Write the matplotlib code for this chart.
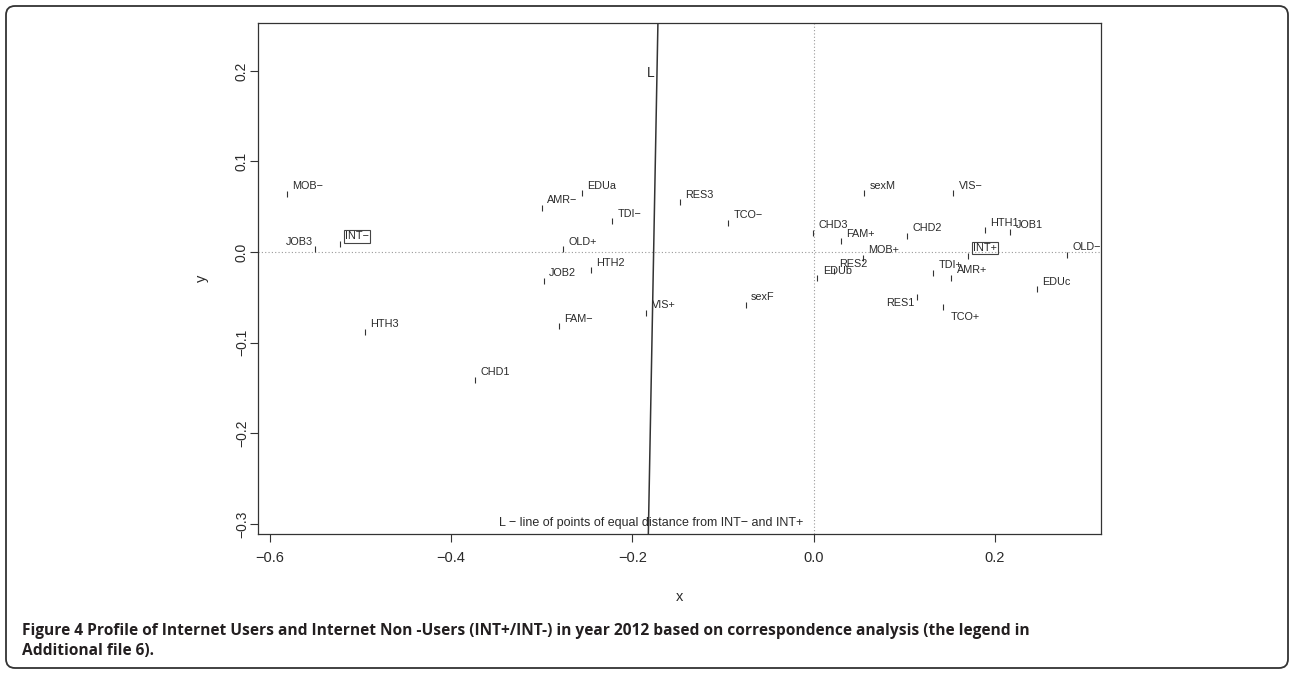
import numpy as np
import matplotlib
matplotlib.use("Agg")
import matplotlib.pyplot as plt
import matplotlib.patches as mpatches
from matplotlib import font_manager

# Correspondence analysis coordinates
labels = ["MOB−", "EDUa", "AMR−", "TDI−", "JOB3", "INT−", "OLD+", "HTH2", "JOB2",
          "VIS+", "FAM−", "HTH3", "CHD1", "RES3", "TCO−", "sexF", "CHD3", "FAM+",
          "sexM", "VIS−", "CHD2", "HTH1", "JOB1", "MOB+", "INT+", "OLD−", "RES2",
          "EDUb", "TDI+", "AMR+", "EDUc", "TCO+", "RES1"]
x = [-0.581, -0.256, -0.300, -0.222, -0.550, -0.523, -0.277, -0.246, -0.298,
     -0.185, -0.281, -0.495, -0.374, -0.148, -0.094, -0.075, -0.001, 0.030,
     0.056, 0.154, 0.103, 0.189, 0.217, 0.054, 0.170, 0.279, 0.022,
     0.004, 0.132, 0.152, 0.246, 0.143, 0.114]
y = [0.064, 0.065, 0.049, 0.034, 0.003, 0.009, 0.003, -0.020, -0.032,
     -0.067, -0.082, -0.088, -0.141, 0.055, 0.032, -0.058, 0.021, 0.012,
     0.065, 0.065, 0.018, 0.024, 0.022, -0.006, -0.004, -0.003, -0.021,
     -0.029, -0.023, -0.028, -0.041, -0.061, -0.049]

xticks = [-0.6, -0.4, -0.2, 0.0, 0.2]
yticks = [-0.3, -0.2, -0.1, 0.0, 0.1, 0.2]

caption1 = ("Figure 4 Profile of Internet Users and Internet Non -Users (INT+/INT-) in year 2012 "
            "based on correspondence analysis (the legend in")
caption2 = "Additional file 6)."

# label placement (offset in points, horizontal alignment)
place_default = ((4, 5.5), "left")
place = {"JOB3": ((-1.5, 5), "right"),
         "RES1": ((-1.5, -5), "right"),
         "TCO+": ((5, -7), "left")}
boxed = {"INT−", "INT+"}

available = {f.name for f in font_manager.fontManager.ttflist}
narrow = next((n for n in ["Liberation Sans Narrow", "DejaVu Sans Condensed"] if n in available),
              "Liberation Sans")
txt_col = "#2a2a2a"

fig = plt.figure(figsize=(12.92, 6.74), dpi=100)
ax = fig.add_axes([258 / 1292, 1 - 534 / 674, (1101 - 258) / 1292, (534 - 23) / 674])

ax.axhline(0, color="#999999", lw=0.8, ls=(0, (1, 2)), zorder=1)
ax.axvline(0, color="#999999", lw=0.8, ls=(0, (1, 2)), zorder=1)

ax.plot(x, y, ls="none", marker="|", ms=5, mew=0.8, color="#333333", zorder=3)

for lab, xi, yi in zip(labels, x, y):
    off, ha = place.get(lab, place_default)
    kw = {}
    if lab in boxed:
        kw["bbox"] = dict(boxstyle="square,pad=0.12", fc="none", ec="#444444", lw=0.8)
    ax.annotate(lab, (xi, yi), xytext=off, textcoords="offset points",
                ha=ha, va="center", fontsize=7.8, family="Liberation Sans",
                color=txt_col, **kw)

# line L: points of equal distance from INT- and INT+
ia, ib = labels.index("INT−"), labels.index("INT+")
a = np.array([x[ia], y[ia]])
b = np.array([x[ib], y[ib]])
m = (a + b) / 2
d = b - a
ylim = (-0.311, 0.2528)
ly = np.array(ylim)
lx = m[0] - (ly - m[1]) * d[1] / d[0]
ax.plot(lx, ly, color="#333333", lw=1.1, zorder=2)
ax.text(lx[1] - 0.004, 0.198, "L", ha="right", va="center", fontsize=10,
        family="Liberation Sans", color=txt_col)
ax.text(lx[0] + 0.003, -0.299, "L − line of points of equal distance from INT− and INT+",
        ha="center", va="center", fontsize=9, family="Liberation Sans", color=txt_col)

ax.set_xlim(-0.613, 0.317)
ax.set_ylim(*ylim)
ax.set_xticks(xticks)
ax.set_xticklabels([f"{t:.1f}".replace("-", "−") for t in xticks],
                   family=narrow, fontsize=10.5, color=txt_col)
ax.set_yticks(yticks)
ax.set_yticklabels([f"{t:.1f}".replace("-", "−") for t in yticks],
                   family="Liberation Sans", fontsize=10, color=txt_col,
                   rotation=90, va="center")
ax.tick_params(length=5.5, width=0.8, color="#333333")
ax.tick_params(axis="x", pad=7)
ax.tick_params(axis="y", pad=1)
for s in ax.spines.values():
    s.set_linewidth(0.9)
    s.set_color("#333333")
ax.set_xlabel("x", family=narrow, fontsize=10.5, color=txt_col, labelpad=18)
ax.set_ylabel("y", family="Liberation Sans", fontsize=10.5, color=txt_col, labelpad=19)

# figure border and caption
fig.patches.append(mpatches.FancyBboxPatch((6, 6), 1282, 662,
                   boxstyle="round,pad=0,rounding_size=9", transform=None,
                   fc="none", ec="#333333", lw=1.3, figure=fig))
cap_font = "Open Sans" if "Open Sans" in available else "DejaVu Sans"
t1 = fig.text(22 / 1292, 1 - 631 / 674, caption1, family=cap_font, weight="bold",
              fontsize=10.5, color="#231f20", va="center")
t2 = fig.text(22 / 1292, 1 - 651 / 674, caption2, family=cap_font, weight="bold",
              fontsize=10.5, color="#231f20", va="center")
# fit the first caption line to the width seen in the figure (with a cap on size)
r = fig.canvas.get_renderer()
w = t1.get_window_extent(r).width
fs = min(10.5 * 1223 / w, 11.2)
t1.set_fontsize(fs)
t2.set_fontsize(fs)

fig.savefig("out.png", dpi=100)
